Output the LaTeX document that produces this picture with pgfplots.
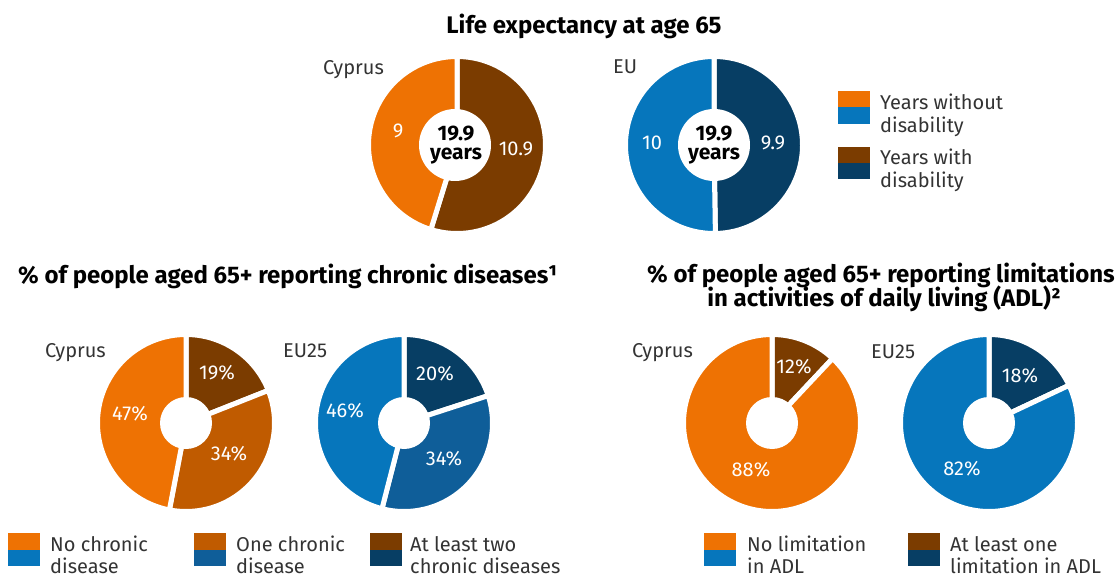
\documentclass[border=0pt]{standalone}
\usepackage{fontspec}
\setmainfont{Fira Sans}
\usepackage{pgfplots}
\pgfplotsset{compat=1.18}
\definecolor{corange}{HTML}{EE7203}
\definecolor{cmbrown}{HTML}{C05B00}
\definecolor{cdbrown}{HTML}{7B3C00}
\definecolor{cblue}{HTML}{0676BC}
\definecolor{cmblue}{HTML}{0F5E99}
\definecolor{cnavy}{HTML}{073E64}
\definecolor{ctext}{HTML}{333333}
\newcommand{\lab}{\fontsize{20bp}{23.5bp}\selectfont}
\newcommand{\ttl}{\fontsize{24bp}{26bp}\selectfont\bfseries}
\newcommand{\ctr}{\fontsize{21bp}{22bp}\selectfont\bfseries}
% \sector{cx}{cy}{R}{total}{cumulative start}{value}{colour}
\newcommand{\sector}[7]{%
  \pgfmathsetmacro\aA{90-(#5+#6)*(360/#4)}%
  \pgfmathsetmacro\aB{90-(#5)*(360/#4)}%
  \pgfmathsetmacro\RR{#3+2.5}%
  \edef\temp{\noexpand\addplot[fill=#7, draw=white, line width=5bp, line join=miter, domain=\aA:\aB, samples=120, variable=\noexpand\t] ({#1+\RR*cos(\noexpand\t)},{#2-\RR*sin(\noexpand\t)}) -- (axis cs:#1,#2) -- cycle;}%
  \temp
}
\begin{document}
\begin{tikzpicture}
\begin{axis}[x=1bp, y=1bp, xmin=0, xmax=1118, ymin=0, ymax=577, y dir=reverse,
  hide axis, clip=false, scale only axis]
% ---- Life expectancy at 65: Cyprus
\sector{457}{145}{86}{19.9}{0}{10.9}{cdbrown}
\sector{457}{145}{86}{19.9}{10.9}{9}{corange}
% ---- EU
\sector{714}{145}{86}{19.9}{0}{9.9}{cnavy}
\sector{714}{145}{86}{19.9}{9.9}{10}{cblue}
% ---- chronic diseases: Cyprus
\sector{186}{423}{86}{100}{0}{19}{cdbrown}
\sector{186}{423}{86}{100}{19}{34}{cmbrown}
\sector{186}{423}{86}{100}{53}{47}{corange}
% ---- chronic diseases: EU25
\sector{404}{423}{86}{100}{0}{20}{cnavy}
\sector{404}{423}{86}{100}{20}{34}{cmblue}
\sector{404}{423}{86}{100}{54}{46}{cblue}
% ---- ADL: Cyprus
\sector{772}{423}{86}{100}{0}{12}{cdbrown}
\sector{772}{423}{86}{100}{12}{88}{corange}
% ---- ADL: EU25
\sector{989}{423}{86}{100}{0}{18}{cnavy}
\sector{989}{423}{86}{100}{18}{82}{cblue}
% holes
\fill[white] (axis cs:455,145) circle[radius=36bp];
\fill[white] (axis cs:714,145) circle[radius=36bp];
\fill[white] (axis cs:186,423) circle[radius=26bp];
\fill[white] (axis cs:404,423) circle[radius=26bp];
\fill[white] (axis cs:772,423) circle[radius=26bp];
\fill[white] (axis cs:989,423) circle[radius=26bp];
% titles
\node[font=\ttl, text=black, anchor=base, inner sep=0] at (axis cs:584,34) {Life expectancy at age 65};
\node[font=\ttl, text=black, anchor=base, inner sep=0] at (axis cs:288,284) {\% of people aged 65+ reporting chronic diseases¹};
\node[font=\ttl, text=black, anchor=base, inner sep=0] at (axis cs:881,283) {\% of people aged 65+ reporting limitations};
\node[font=\ttl, text=black, anchor=base, inner sep=0] at (axis cs:884,307) {in activities of daily living (ADL)²};
% donut names
\node[font=\lab, text=ctext, anchor=base west, inner sep=0] at (axis cs:323,75) {Cyprus};
\node[font=\lab, text=ctext, anchor=base west, inner sep=0] at (axis cs:613,74) {EU};
\node[font=\lab, text=ctext, anchor=base west, inner sep=0] at (axis cs:45,357) {Cyprus};
\node[font=\lab, text=ctext, anchor=base west, inner sep=0] at (axis cs:283,357) {EU25};
\node[font=\lab, text=ctext, anchor=base west, inner sep=0] at (axis cs:632,357) {Cyprus};
\node[font=\lab, text=ctext, anchor=base west, inner sep=0] at (axis cs:871,358) {EU25};
% centre texts
\node[font=\ctr, text=black, anchor=base, inner sep=0] at (axis cs:456,141) {19.9};
\node[font=\ctr, text=black, anchor=base, inner sep=0] at (axis cs:456,160) {years};
\node[font=\ctr, text=black, anchor=base, inner sep=0] at (axis cs:714,141) {19.9};
\node[font=\ctr, text=black, anchor=base, inner sep=0] at (axis cs:714,160) {years};
% value labels
\node[font=\lab, text=white, inner sep=0] at (axis cs:398,131) {9};
\node[font=\lab, text=white, inner sep=0] at (axis cs:516,149) {10.9};
\node[font=\lab, text=white, inner sep=0] at (axis cs:652,143) {10};
\node[font=\lab, text=white, inner sep=0] at (axis cs:773,143) {9.9};
\node[font=\lab, text=white, inner sep=0] at (axis cs:217,373) {19\%};
\node[font=\lab, text=white, inner sep=0] at (axis cs:229,454) {34\%};
\node[font=\lab, text=white, inner sep=0] at (axis cs:130,414) {47\%};
\node[font=\lab, text=white, inner sep=0] at (axis cs:435,374) {20\%};
\node[font=\lab, text=white, inner sep=0] at (axis cs:444,459) {34\%};
\node[font=\lab, text=white, inner sep=0] at (axis cs:345,411) {46\%};
\node[font=\lab, text=white, inner sep=0] at (axis cs:794,367) {12\%};
\node[font=\lab, text=white, inner sep=0] at (axis cs:751,470) {88\%};
\node[font=\lab, text=white, inner sep=0] at (axis cs:1020,376) {18\%};
\node[font=\lab, text=white, inner sep=0] at (axis cs:962,469) {82\%};
% legend: top
\fill[corange] (axis cs:838,91) rectangle (axis cs:870,107.5);
\fill[cblue] (axis cs:838,107.5) rectangle (axis cs:870,124);
\fill[cdbrown] (axis cs:838,147) rectangle (axis cs:870,163);
\fill[cnavy] (axis cs:838,163) rectangle (axis cs:870,179);
\node[font=\lab, text=ctext, anchor=base west, inner sep=0] at (axis cs:880,110) {Years without};
\node[font=\lab, text=ctext, anchor=base west, inner sep=0] at (axis cs:880,133) {disability};
\node[font=\lab, text=ctext, anchor=base west, inner sep=0] at (axis cs:880,165) {Years with};
\node[font=\lab, text=ctext, anchor=base west, inner sep=0] at (axis cs:880,188) {disability};
% legend: chronic
\fill[corange] (axis cs:8,533) rectangle (axis cs:40,549.5);
\fill[cblue] (axis cs:8,549.5) rectangle (axis cs:40,566);
\fill[cmbrown] (axis cs:194,533) rectangle (axis cs:226,549.5);
\fill[cmblue] (axis cs:194,549.5) rectangle (axis cs:226,566);
\fill[cdbrown] (axis cs:370,533) rectangle (axis cs:402,549.5);
\fill[cnavy] (axis cs:370,549.5) rectangle (axis cs:402,566);
\node[font=\lab, text=ctext, anchor=base west, inner sep=0] at (axis cs:50,551) {No chronic};
\node[font=\lab, text=ctext, anchor=base west, inner sep=0] at (axis cs:50,573) {disease};
\node[font=\lab, text=ctext, anchor=base west, inner sep=0] at (axis cs:236,551) {One chronic};
\node[font=\lab, text=ctext, anchor=base west, inner sep=0] at (axis cs:236,573) {disease};
\node[font=\lab, text=ctext, anchor=base west, inner sep=0] at (axis cs:410,551) {At least two};
\node[font=\lab, text=ctext, anchor=base west, inner sep=0] at (axis cs:410,573) {chronic diseases};
% legend: ADL
\fill[corange] (axis cs:704,533) rectangle (axis cs:736,549.5);
\fill[cblue] (axis cs:704,549.5) rectangle (axis cs:736,566);
\fill[cdbrown] (axis cs:908,533) rectangle (axis cs:940,549.5);
\fill[cnavy] (axis cs:908,549.5) rectangle (axis cs:940,566);
\node[font=\lab, text=ctext, anchor=base west, inner sep=0] at (axis cs:747,551) {No limitation};
\node[font=\lab, text=ctext, anchor=base west, inner sep=0] at (axis cs:747,573) {in ADL};
\node[font=\lab, text=ctext, anchor=base west, inner sep=0] at (axis cs:950,551) {At least one};
\node[font=\lab, text=ctext, anchor=base west, inner sep=0] at (axis cs:950,573) {limitation in ADL};
\end{axis}
\useasboundingbox (current axis.south west) rectangle (current axis.north east);
\end{tikzpicture}
\end{document}
